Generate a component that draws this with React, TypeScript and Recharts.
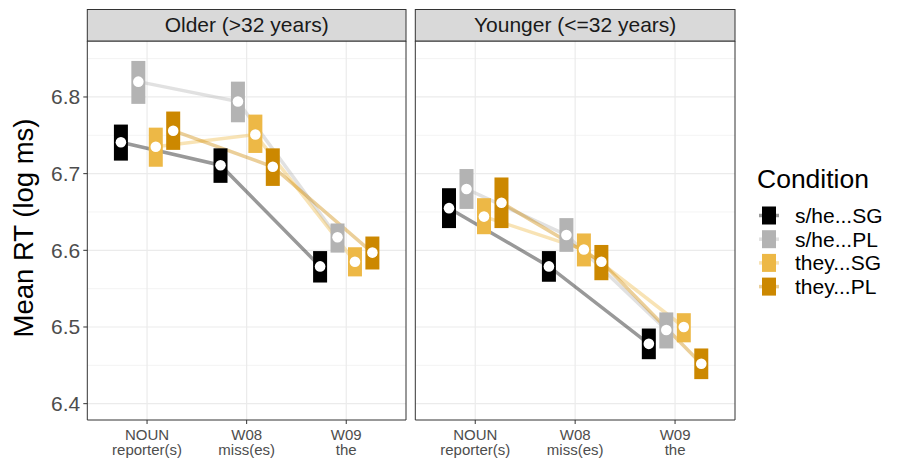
// 연령대별 조건별 평균 RT (crossbar + 평균점 + 연결선) 재현
import {
  ComposedChart,
  Line,
  Scatter,
  ErrorBar,
  XAxis,
  YAxis,
  CartesianGrid,
  ReferenceArea,
} from 'recharts';

const conditions = ['s/he...SG', 's/he...PL', 'they...SG', 'they...PL'];
const colors = ['#000000', '#B3B3B3', '#EDB846', '#CC8800'];
const regions = ['NOUN', 'W08', 'W09'];
const regionWords = ['reporter(s)', 'miss(es)', 'the'];
const panelTitles = ['Older (>32 years)', 'Younger (<=32 years)'];
const yTicks = [6.4, 6.5, 6.6, 6.7, 6.8];
const yMinor = [6.45, 6.55, 6.65, 6.75, 6.85];

// Older (>32) - 조건별 [NOUN, W08, W09]
const olderMean = [
  [6.741, 6.711, 6.579],
  [6.82, 6.794, 6.617],
  [6.735, 6.751, 6.585],
  [6.756, 6.709, 6.597],
];
const olderLow = [
  [6.717, 6.688, 6.558],
  [6.791, 6.767, 6.597],
  [6.709, 6.727, 6.566],
  [6.731, 6.684, 6.575],
];
const olderHigh = [
  [6.764, 6.733, 6.599],
  [6.847, 6.82, 6.635],
  [6.76, 6.777, 6.604],
  [6.781, 6.733, 6.618],
];

// Younger (<=32)
const youngerMean = [
  [6.655, 6.579, 6.478],
  [6.68, 6.62, 6.496],
  [6.644, 6.601, 6.5],
  [6.662, 6.585, 6.452],
];
const youngerLow = [
  [6.629, 6.559, 6.458],
  [6.654, 6.598, 6.472],
  [6.621, 6.579, 6.48],
  [6.629, 6.561, 6.432],
];
const youngerHigh = [
  [6.681, 6.599, 6.498],
  [6.706, 6.642, 6.519],
  [6.668, 6.622, 6.518],
  [6.695, 6.607, 6.472],
];

const Y_MIN = 6.3787;
const Y_MAX = 6.873;
const X_MIN = 0.4;
const X_MAX = 3.6;
const DODGE = 0.175;
const FONT = '"Liberation Sans", Arial, Helvetica, sans-serif';

// x축 두 줄 라벨
function RegionTick({ x, y, payload }: { x?: number; y?: number; payload?: { value: number } }) {
  const i = Math.round(payload?.value ?? 1) - 1;
  return (
    <text x={x} y={y} textAnchor="middle" fill="#4d4d4d" fontSize={15} fontFamily={FONT}>
      <tspan x={x} dy={13.5}>{regions[i]}</tspan>
      <tspan x={x} dy={15.5}>{regionWords[i]}</tspan>
    </text>
  );
}

function MeanDot({ cx, cy }: { cx?: number; cy?: number }) {
  return <circle cx={cx} cy={cy} r={5.3} fill="#ffffff" />;
}

function Panel({
  means,
  lows,
  highs,
  showY,
  left,
  width,
  margin,
}: {
  means: number[][];
  lows: number[][];
  highs: number[][];
  showY: boolean;
  left: number;
  width: number;
  margin: { top: number; right: number; bottom: number; left: number };
}) {
  const series = conditions.map((_, c) =>
    regions.map((_, r) => ({
      x: r + 1 + (c - 1.5) * DODGE,
      y: means[c][r],
      err: [means[c][r] - lows[c][r], highs[c][r] - means[c][r]],
    }))
  );

  return (
    <div style={{ position: 'absolute', left, top: 0 }}>
      <ComposedChart width={width} height={459} margin={margin}>
        <CartesianGrid horizontalValues={yMinor} vertical={false} stroke="#ebebeb" strokeWidth={0.6} />
        <CartesianGrid
          horizontalValues={yTicks}
          verticalValues={[1, 2, 3]}
          stroke="#ebebeb"
          strokeWidth={1.2}
        />
        <XAxis
          dataKey="x"
          type="number"
          domain={[X_MIN, X_MAX]}
          ticks={[1, 2, 3]}
          interval={0}
          allowDataOverflow
          height={39}
          axisLine={false}
          tickSize={4}
          tickMargin={2}
          tickLine={{ stroke: '#333333' }}
          tick={<RegionTick />}
        />
        <YAxis
          type="number"
          domain={[Y_MIN, Y_MAX]}
          ticks={yTicks}
          allowDataOverflow
          hide={!showY}
          width={87.3}
          axisLine={false}
          tickSize={4}
          tickMargin={3}
          tickLine={{ stroke: '#333333' }}
          tick={{ fill: '#4d4d4d', fontSize: 21, fontFamily: FONT }}
          tickFormatter={(v: number) => v.toFixed(1)}
        />
        {series.map((d, c) => (
          <Line
            key={`line-${c}`}
            data={d}
            dataKey="y"
            type="linear"
            stroke={colors[c]}
            strokeOpacity={0.4}
            strokeWidth={3.5}
            dot={false}
            activeDot={false}
            isAnimationActive={false}
          />
        ))}
        {series.map((d, c) => (
          <Scatter
            key={`pt-${c}`}
            data={d}
            dataKey="y"
            fill="#ffffff"
            shape={<MeanDot />}
            isAnimationActive={false}
          >
            <ErrorBar
              dataKey="err"
              direction="y"
              width={0}
              stroke={colors[c]}
              strokeWidth={14}
              isAnimationActive={false}
            />
          </Scatter>
        ))}
        <ReferenceArea
          x1={X_MIN}
          x2={X_MAX}
          y1={Y_MIN}
          y2={Y_MAX}
          fill="none"
          fillOpacity={0}
          stroke="#333333"
          strokeWidth={1}
        />
      </ComposedChart>
    </div>
  );
}

export default function App() {
  const strips = [
    { x: 87.3, w: 318.7 },
    { x: 415.3, w: 319.7 },
  ];
  const rowY = [215.5, 239.2, 262.9, 286.6];

  return (
    <div
      style={{
        position: 'fixed',
        left: 0,
        top: 0,
        width: 898,
        height: 459,
        background: '#ffffff',
        fontFamily: FONT,
      }}
    >
      <Panel
        means={olderMean}
        lows={olderLow}
        highs={olderHigh}
        showY
        left={0}
        width={410}
        margin={{ top: 41, right: 4, bottom: 0, left: 0 }}
      />
      <Panel
        means={youngerMean}
        lows={youngerLow}
        highs={youngerHigh}
        showY={false}
        left={410}
        width={330}
        margin={{ top: 41, right: 5, bottom: 0, left: 5.3 }}
      />
      <svg
        width={898}
        height={459}
        style={{ position: 'absolute', left: 0, top: 0, pointerEvents: 'none' }}
        fontFamily={FONT}
      >
        {strips.map((s, i) => (
          <g key={i}>
            <rect x={s.x} y={9.5} width={s.w} height={31.5} fill="#d9d9d9" stroke="#333333" strokeWidth={1} />
            <text x={s.x + s.w / 2} y={32} textAnchor="middle" fontSize={21} fill="#1a1a1a">
              {panelTitles[i]}
            </text>
          </g>
        ))}
        <text
          x={0}
          y={0}
          transform="translate(33, 228) rotate(-90)"
          textAnchor="middle"
          fontSize={27.5}
          fill="#000000"
        >
          Mean RT (log ms)
        </text>
        <text x={757} y={187.5} fontSize={26.5} fill="#000000">
          Condition
        </text>
        {conditions.map((name, c) => (
          <g key={name}>
            <line
              x1={759}
              x2={779}
              y1={rowY[c]}
              y2={rowY[c]}
              stroke={colors[c]}
              strokeOpacity={0.4}
              strokeWidth={3.5}
            />
            <rect x={762} y={rowY[c] - 9} width={14} height={18} fill={colors[c]} />
            <text x={795} y={rowY[c] + 7.5} fontSize={21} fill="#000000">
              {name}
            </text>
          </g>
        ))}
      </svg>
    </div>
  );
}
